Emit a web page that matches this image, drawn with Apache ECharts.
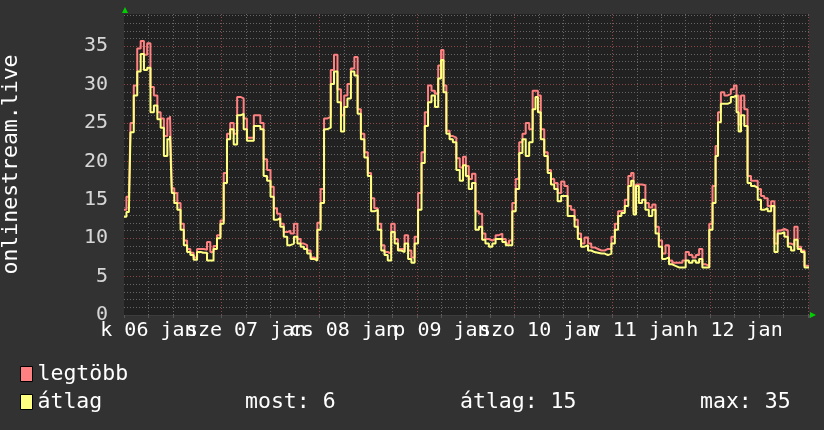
<!DOCTYPE html>
<html><head><meta charset="utf-8">
<script src="https://cdn.jsdelivr.net/npm/echarts@6/dist/echarts.min.js"></script>
<style>html,body{margin:0;padding:0;background:#323232}#c{width:824px;height:430px}</style>
</head><body><div id="c"></div>
<script>
// hours since 06 jan 00:00
const hours = [
 6.0, 7.2, 8.0, 8.8, 9.7, 10.5, 11.3, 12.1, 12.9, 13.8,
 14.6, 15.4, 16.2, 17.1, 17.5, 18.0, 18.7, 19.5, 20.3, 21.1,
 21.9, 22.7, 23.5, 24.4, 25.2, 26.0, 26.8, 27.6, 28.4, 29.3,
 30.1, 30.9, 31.7, 32.5, 33.4, 34.2, 35.0, 35.8, 36.6, 37.5,
 38.3, 39.1, 39.9, 40.7, 41.6, 42.4, 43.2, 44.0, 44.8, 45.7,
 46.5, 47.3, 48.2, 49.0, 49.8, 50.6, 51.4, 52.3, 53.1, 53.9,
 54.7, 55.6, 56.4, 57.2, 58.0, 58.9, 59.7, 60.5, 61.3, 62.2,
 63.0, 63.8, 64.6, 65.5, 66.3, 67.1, 67.9, 68.8, 69.6, 70.4,
 71.2, 72.1, 72.9, 73.7, 74.5, 75.4, 76.2, 77.0, 77.8, 78.7,
 79.5, 80.3, 81.1, 82.0, 82.8, 83.6, 84.2, 84.8, 85.6, 86.4,
 87.2, 88.1, 88.9, 89.7, 90.3, 91.1, 91.9, 92.8, 93.6, 94.4,
 95.2, 96.1, 96.9, 97.7, 98.5, 99.4, 100.2, 101.0, 101.8, 102.7,
 103.5, 104.3, 105.1, 106.0, 106.8, 107.4, 108.0, 108.8, 109.7, 110.5,
 111.3, 112.1, 113.0, 113.8, 114.6, 115.4, 116.3, 117.1, 117.9, 118.7,
 119.6, 120.4, 121.2, 122.0, 122.9, 123.7, 124.5, 125.3, 126.2, 127.0,
 127.8, 128.6, 129.5, 130.3, 130.9, 131.5, 132.1, 132.9, 133.7, 134.5,
 135.4, 136.2, 137.0, 137.8, 138.6, 139.5, 140.3, 141.1, 141.9, 142.8,
 143.6, 144.4, 145.2, 146.1, 146.9, 147.7, 148.5, 149.4, 150.2, 151.0,
 151.7, 152.2, 153.1, 153.9, 154.7, 155.5, 156.2, 156.8, 157.2, 158.0,
 158.8, 159.6, 160.5, 161.3, 162.1, 162.9, 163.7, 164.6, 165.4, 166.2,
 167.0, 167.8, 168.7, 169.5, 170.3, 171.1, 171.9, 172.8, 173.6, 174.3
];
const avgVals = [
 12.8, 13.4, 23.8, 28.6, 31.7, 34.0, 31.9, 32.2, 26.4, 27.3,
 25.5, 24.4, 20.7, 22.9, 23.3, 15.9, 14.6, 13.7, 11.1, 9.1,
 8.2, 7.8, 7.2, 8.2, 8.1, 8.1, 7.1, 7.1, 8.6, 10.0,
 11.9, 17.2, 22.9, 24.2, 22.2, 26.0, 26.2, 24.2, 22.7, 22.7,
 24.6, 24.6, 24.2, 18.1, 17.5, 15.4, 12.4, 12.6, 11.5, 10.2,
 9.1, 9.3, 10.2, 9.3, 8.9, 8.6, 8.0, 7.3, 7.1, 11.1,
 14.6, 24.2, 24.4, 30.1, 31.7, 27.7, 23.9, 27.1, 28.2, 31.7,
 31.2, 26.2, 22.9, 20.5, 18.1, 13.5, 13.7, 11.1, 8.4, 7.8,
 7.1, 10.8, 9.3, 8.4, 8.2, 9.3, 7.3, 6.8, 9.3, 13.7,
 19.8, 24.6, 27.7, 28.6, 27.1, 30.8, 33.2, 29.0, 23.6, 22.9,
 22.5, 18.9, 17.5, 19.5, 18.1, 16.4, 17.2, 11.1, 11.5, 9.8,
 9.3, 8.9, 9.3, 9.9, 9.9, 9.5, 9.1, 9.1, 13.5, 16.4,
 21.1, 22.9, 20.7, 22.5, 26.8, 28.4, 26.4, 22.9, 20.7, 18.5,
 17.0, 16.4, 14.8, 15.5, 15.5, 12.9, 12.9, 11.5, 9.9, 8.9,
 9.1, 8.4, 8.2, 8.1, 8.0, 8.0, 7.8, 8.0, 9.3, 11.1,
 12.9, 13.3, 14.2, 16.8, 17.5, 13.1, 16.8, 14.6, 15.0, 13.7,
 12.9, 13.7, 10.6, 8.9, 7.3, 7.5, 6.6, 6.4, 6.2, 6.2,
 6.2, 7.1, 6.8, 7.1, 6.8, 7.3, 6.2, 6.2, 11.1, 14.6,
 20.7, 25.1, 27.5, 27.5, 27.7, 28.4, 28.6, 26.4, 23.9, 26.0,
 24.6, 17.2, 16.8, 16.6, 15.0, 13.7, 13.9, 13.5, 14.2, 8.2,
 10.6, 10.8, 10.2, 8.9, 8.4, 9.8, 8.6, 8.2, 6.2, 6.2
];
const maxVals = [
 13.7, 15.4, 25.0, 29.9, 34.7, 35.7, 33.9, 35.4, 29.7, 28.6,
 26.4, 25.6, 23.3, 25.6, 25.9, 16.5, 15.9, 14.6, 11.9, 9.7,
 8.6, 8.1, 7.5, 8.6, 8.6, 8.5, 9.5, 8.2, 9.0, 10.4,
 12.3, 18.5, 23.6, 25.0, 23.6, 28.4, 28.2, 25.6, 23.1, 23.1,
 26.0, 26.0, 25.0, 20.3, 18.9, 16.7, 13.9, 13.2, 11.9, 10.8,
 11.0, 10.6, 11.9, 9.9, 9.3, 9.1, 8.4, 7.5, 7.3, 12.0,
 16.4, 25.6, 25.8, 31.9, 33.9, 29.4, 26.0, 28.6, 30.1, 32.1,
 33.6, 26.8, 23.6, 21.2, 18.5, 15.2, 13.9, 11.9, 9.1, 8.2,
 8.0, 11.9, 9.9, 8.6, 8.6, 10.4, 8.4, 7.5, 10.2, 15.9,
 21.2, 26.4, 29.9, 29.2, 28.8, 32.5, 34.5, 29.9, 24.0, 23.3,
 23.1, 20.4, 19.2, 20.6, 19.4, 17.7, 18.4, 13.5, 13.2, 10.6,
 9.9, 9.7, 9.9, 10.4, 10.6, 9.9, 9.3, 9.7, 14.6, 17.7,
 22.5, 23.6, 25.0, 24.2, 29.2, 29.2, 28.6, 24.2, 21.2, 18.9,
 17.7, 17.2, 15.9, 17.4, 16.8, 14.2, 13.7, 12.4, 10.6, 9.3,
 10.1, 9.3, 8.8, 8.6, 8.4, 8.4, 8.6, 8.6, 10.2, 11.9,
 13.5, 13.7, 15.0, 18.1, 18.5, 13.5, 17.0, 17.0, 16.9, 14.6,
 14.0, 14.4, 11.5, 9.7, 8.0, 9.1, 7.1, 6.8, 6.8, 6.8,
 7.1, 8.2, 7.8, 7.5, 7.8, 8.6, 6.6, 6.4, 11.9, 16.8,
 22.0, 26.4, 29.0, 28.6, 28.8, 29.4, 29.9, 28.6, 24.8, 28.6,
 26.8, 18.1, 17.5, 17.5, 16.4, 15.5, 15.2, 14.2, 14.8, 9.3,
 11.0, 11.2, 11.0, 9.3, 9.1, 11.5, 8.9, 8.4, 6.4, 6.4
];
const dayLabels = ['k 06 jan', 'sze 07 jan', 'cs 08 jan', 'p 09 jan', 'szo 10 jan', 'v 11 jan', 'h 12 jan'];
const yTickLabels = [0, 5, 10, 15, 20, 25, 30, 35];
const seriesNames = ['legtöbb', 'átlag'];
const statLabels = ['most: 6', 'átlag: 15', 'max: 35'];
const yName = 'onlinestream.live';

const FONT = '"DejaVu Sans Mono", monospace';
const RED = '#ff8080', YEL = '#ffff80';
const GMIN = '#666666', GMAJ = '#8c4848';
const X_MIN = 6, X_MAX = 174.3;

const chart = echarts.init(document.getElementById('c'), null, {renderer: 'canvas', width: 824, height: 430});
const gridLeft = 124, gridTop = 14, gridW = 685, gridH = 301;

chart.setOption({
  backgroundColor: '#323232',
  animation: false,
  grid: {left: gridLeft, top: gridTop, width: gridW, height: gridH, show: true, backgroundColor: '#212121', borderWidth: 0,
         containLabel: false, outerBoundsMode: 'none'},
  xAxis: {
    type: 'value', min: X_MIN, max: X_MAX, interval: 6,
    axisLine: {show: true, lineStyle: {color: '#3c3c3c', width: 1}},
    axisTick: {show: true, length: 3, lineStyle: {color: '#555'}},
    splitLine: {show: true, showMinLine: false, showMaxLine: false, lineStyle: {color: [GMIN, GMIN, GMIN, GMAJ], type: [1, 2], width: 1}},
    axisLabel: {
      color: '#ffffff', fontFamily: FONT, fontSize: 20, lineHeight: 14, margin: 9, hideOverlap: false,
      showMinLabel: true, showMaxLabel: true,
      formatter: function (v) { const r = Math.round(v); return (r % 24 === 12) ? (dayLabels[(r - 12) / 24] || '') : ''; }
    }
  },
  yAxis: {
    type: 'value', min: 0, max: 39.2, interval: 1,
    name: yName, nameLocation: 'middle', nameRotate: 90, nameGap: 102,
    nameTextStyle: {color: '#ffffff', fontFamily: FONT, fontSize: 21.5},
    axisLine: {show: false}, axisTick: {show: false},
    splitLine: {show: true, showMaxLine: false, lineStyle: {color: [GMAJ, GMIN, GMIN, GMIN, GMIN], type: [1, 2], width: 1}},
    axisLabel: {show: false}
  },
  legend: {
    orient: 'vertical', left: 20, top: 363, padding: 0, itemWidth: 12, itemHeight: 15, itemGap: 6,
    icon: 'rect', selectedMode: false, data: seriesNames,
    itemStyle: {borderColor: '#000', borderWidth: 1},
    textStyle: {color: '#ffffff', fontFamily: FONT, fontSize: 21.5}
  },
  graphic: [
    {type: 'text', left: 245, top: 391, style: {text: statLabels[0], fill: '#fff', font: '21.5px ' + FONT}},
    {type: 'text', left: 460, top: 391, style: {text: statLabels[1], fill: '#fff', font: '21.5px ' + FONT}},
    {type: 'text', left: 700, top: 391, style: {text: statLabels[2], fill: '#fff', font: '21.5px ' + FONT}},
    {type: 'polygon', shape: {points: [[122, 13], [128, 13], [125, 7]]}, style: {fill: '#00d000'}},
    {type: 'polygon', shape: {points: [[810, 312], [810, 318], [816, 315]]}, style: {fill: '#00d000'}}
  ],
  series: [
    {name: seriesNames[0], type: 'line', step: 'middle', showSymbol: false, symbol: 'none',
     data: hours.map((h, i) => [h, maxVals[i]]),
     lineStyle: {color: RED, width: 2}, itemStyle: {color: RED}},
    {name: seriesNames[1], type: 'line', step: 'middle', showSymbol: false, symbol: 'none',
     data: hours.map((h, i) => [h, avgVals[i]]),
     lineStyle: {color: YEL, width: 2}, itemStyle: {color: YEL}},
    {name: 'yTicks', type: 'scatter', silent: true, clip: false, symbolSize: 0.01,
     itemStyle: {color: 'rgba(0,0,0,0)'},
     data: yTickLabels.map(v => [X_MIN, v]),
     label: {show: true, position: 'left', distance: 16, color: '#ffffff', fontFamily: FONT, fontSize: 20,
             formatter: p => String(p.value[1])},
     labelLayout: {hideOverlap: false}}
  ]
});
</script>
</body></html>
